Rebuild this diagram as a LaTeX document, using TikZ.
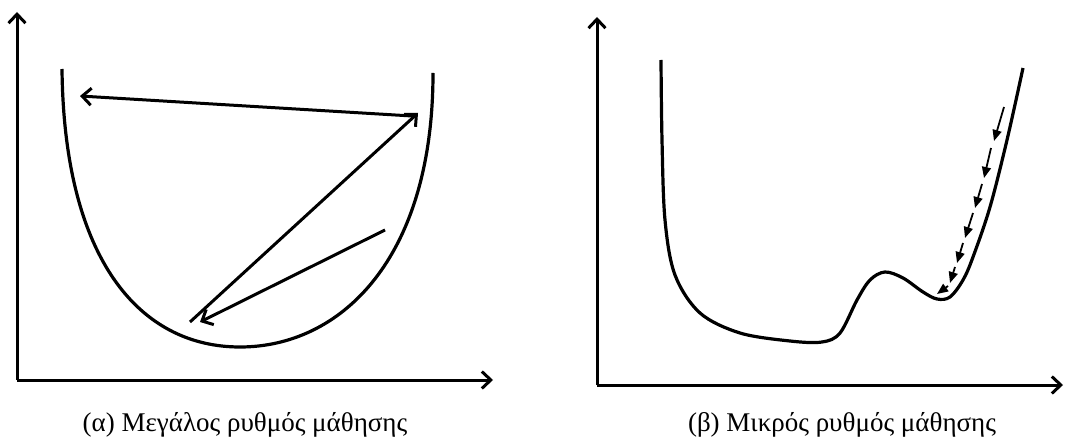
\documentclass[tikz,border=0pt]{standalone}
\usepackage{fontspec}
\setmainfont{Liberation Serif}
\usetikzlibrary{arrows.meta}

\tikzset{
    axis/.style={line width=3pt,-{Straight Barb[length=9pt,width=17pt,line width=3pt]}},
    curve/.style={line width=3.2pt,line join=round},
    jump/.style={line width=3pt,-{Straight Barb[length=9pt,width=17pt,line width=3pt]}},
    stepline/.style={line width=1.8pt,-{Triangle[length=11pt,width=9pt]}},
    caption/.style={font=\fontsize{27}{30}\selectfont}
}

\begin{document}
\begin{tikzpicture}[x=1pt,y=-1pt]
    \useasboundingbox (0,0) rectangle (1065,446);

    % left plot: large learning rate
    \coordinate (oA) at (17,380);
    \draw[axis] (oA) -- (17,12);
    \draw[axis] (oA) -- (493,380);
    \draw[curve] (62,69) .. controls (64,260) and (140,347) .. (240,347)
        .. controls (340,347) and (433,260) .. (433,73);
    \coordinate (a1) at (190,322);
    \coordinate (a2) at (418,113);
    \coordinate (a3) at (412,116);
    \coordinate (a4) at (80,96);
    \coordinate (a5) at (385,230);
    \coordinate (a6) at (200,322);
    \draw[jump] (a1) -- (a2);
    \draw[jump] (a3) -- (a4);
    \draw[jump] (a5) -- (a6);
    \node[caption] (capA) at (245,425) {(α) Μεγάλος ρυθμός μάθησης};

    % right plot: small learning rate
    \coordinate (oB) at (597,385);
    \draw[axis] (oB) -- (597,17);
    \draw[axis] (oB) -- (1063,385);
    \draw[curve] plot[smooth,tension=0.55] coordinates {
        (661,60) (662,140) (665,220) (675,275) (700,313) (740,333)
        (790,341) (822,342) (840,333) (857,300) (870,280) (885,272) (903,278)
        (923,292) (937,299) (950,297) (963,280) (973,257) (990,207)
        (1007,140) (1023,68)};
    \foreach \sx/\sy/\ex/\ey [count=\i] in {1004/107/994/141, 991/148/984/178,
        982/184/975/208, 973/213/965/238, 963/243/957/263,
        955/267/950/283, 948/286/937/294}
        {\coordinate (s\i) at (\sx,\sy);
         \coordinate (e\i) at (\ex,\ey);
         \draw[stepline] (s\i) -- (e\i);}
    \node[caption] (capB) at (842,425) {(β) Μικρός ρυθμός μάθησης};
\end{tikzpicture}
\end{document}
